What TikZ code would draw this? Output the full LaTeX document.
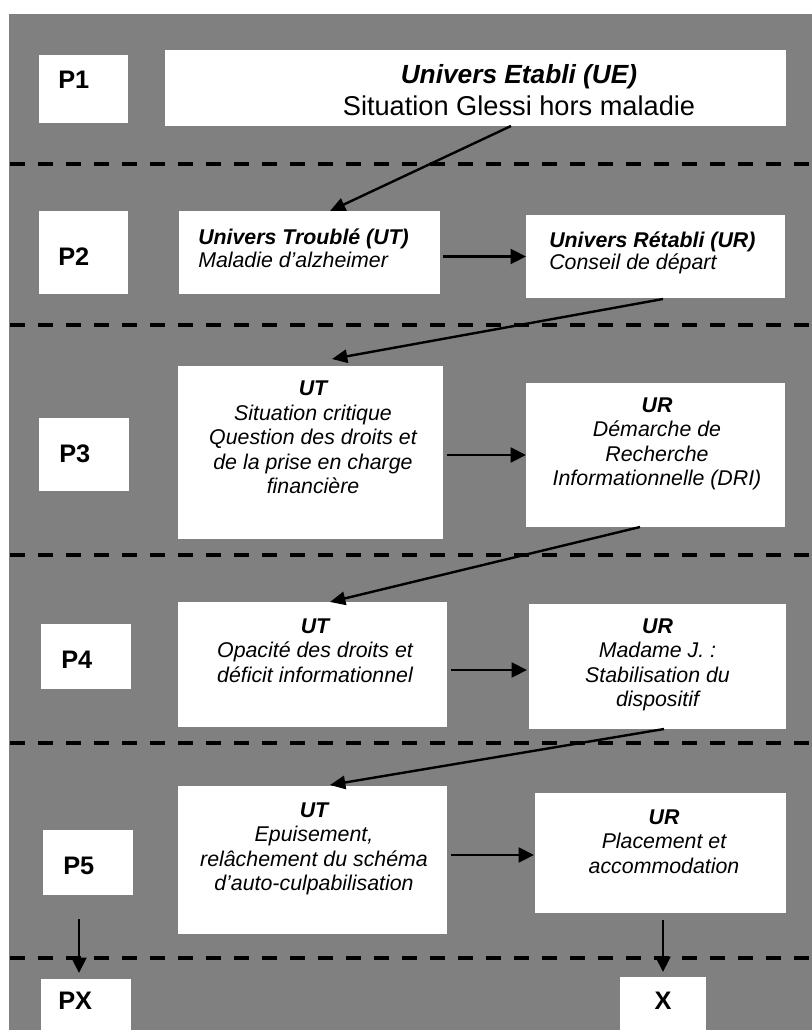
\documentclass[tikz,border=0pt]{standalone}
\usepackage{fontspec}
\setmainfont{Liberation Sans}
\usetikzlibrary{arrows.meta,calc}
\definecolor{bggray}{RGB}{128,128,128}
% fixed first-line heights so that text blocks can be placed by their first baseline
\newcommand\firstln{\rule{0pt}{14pt}}
\newcommand\firstlnbig{\rule{0pt}{17pt}}

\begin{document}
\begin{tikzpicture}[x=0.75pt,y=-0.75pt,
  box/.style={fill=white,draw=none,inner sep=0,outer sep=0},
  wh/.style 2 args={minimum width={#1*0.75pt},minimum height={#2*0.75pt}},
  plabel/.style={font=\fontsize{19}{22}\selectfont\bfseries,inner sep=0,anchor=base west},
  uetext/.style={font=\fontsize{20.4}{24}\selectfont,inner sep=0,align=center,anchor=north},
  lefttext/.style={font=\fontsize{16}{17}\selectfont\itshape,inner sep=0,align=left,anchor=north west},
  body/.style={font=\fontsize{16}{18.4}\selectfont\itshape,inner sep=0,align=center,anchor=north},
  sep/.style={line width=3pt,dash pattern=on 11.6pt off 9.4pt},
  arr/.style={line width=2.2pt,-{Triangle[length=11.5pt,width=11pt]}},
  darr/.style={line width=1.8pt,-{Triangle[length=11.5pt,width=10pt]}}
]
\fill[white] (0,0) rectangle (812,1030);
\fill[bggray] (9,14) rectangle (812,1030);
\useasboundingbox (0,0) rectangle (812,1030);

% phase separators
\foreach \yy in {164,325,555,743,958}
  \draw[sep] (10,\yy) -- (812,\yy);

% boxes
\node[box,wh={621}{76}]  (ue)  at (475.5,88)  {};
\node[box,wh={89}{68}]   (p1)  at (83.5,89)   {};
\node[box,wh={89}{83}]   (p2)  at (83.5,252.5) {};
\node[box,wh={261}{83}]  (ut2) at (309.5,252.5) {};
\node[box,wh={259}{83}]  (ur2) at (655.5,256.5) {};
\node[box,wh={90}{73}]   (p3)  at (84,454.5)  {};
\node[box,wh={265}{173}] (ut3) at (310.5,452.5) {};
\node[box,wh={259}{144}] (ur3) at (655.5,455) {};
\node[box,wh={90}{65}]   (p4)  at (86,656.5)  {};
\node[box,wh={269}{125}] (ut4) at (312.5,664.5) {};
\node[box,wh={257}{125}] (ur4) at (657.5,666.5) {};
\node[box,wh={90}{65}]   (p5)  at (88,862.5)  {};
\node[box,wh={269}{148}] (ut5) at (312.5,860) {};
\node[box,wh={251}{120}] (ur5) at (660.5,853) {};
\node[box,wh={90}{51}]   (px)  at (86,1004.5) {};
\node[box,wh={86}{53}]   (xx)  at (663,1003.5) {};

% phase labels
\node[plabel] (p1-t) at (58,89)   {P1};
\node[plabel] (p2-t) at (58,266)  {P2};
\node[plabel] (p3-t) at (59,462)  {P3};
\node[plabel] (p4-t) at (61,668)  {P4};
\node[plabel] (p5-t) at (63,874)  {P5};
\node[plabel] (px-t) at (58,1009) {PX};
\node[plabel,anchor=base] (xx-t) at (663,1009) {X};

% box texts
\node[uetext] (ue-t) at (519,60.3)
  {\firstlnbig{\fontsize{19.7}{24}\selectfont\bfseries\itshape Univers Etabli (UE)}\\ Situation Glessi hors maladie};
\node[lefttext] (ut2-t) at (198,226)
  {\firstln{\bfseries Univers Troublé (UT)}\\ Maladie d’alzheimer};
\node[lefttext] (ur2-t) at (549,228.3)
  {\firstln{\bfseries Univers Rétabli (UR)}\\ Conseil de départ};
\node[body] (ut3-t) at (313,376.8)
  {\firstln{\bfseries UT}\\ Situation critique\\ Question des droits et\\ de la prise en charge\\ financière};
\node[body] (ur3-t) at (657,393.3)
  {\firstln{\bfseries UR}\\ Démarche de\\ Recherche\\ Informationnelle (DRI)};
\node[body] (ut4-t) at (315,614.3)
  {\firstln{\bfseries UT}\\ Opacité des droits et\\ déficit informationnel};
\node[body] (ur4-t) at (657.5,614.3)
  {\firstln{\bfseries UR}\\ Madame J. :\\ Stabilisation du\\ dispositif};
\node[body] (ut5-t) at (314,798.3)
  {\firstln{\bfseries UT}\\ Epuisement,\\ relâchement du schéma\\ d’auto-culpabilisation};
\node[body] (ur5-t) at (664,805.3)
  {\firstln{\bfseries UR}\\ Placement et\\ accommodation};

% transitions between phases
\draw[darr] ($(ue.south)+(35.5,0)$) -- ($(ut2.north)+(20.5,0)$);
\draw[darr] ($(ur2.south)+(7.5,1)$) -- ($(ut3.north)+(21.5,-7)$);
\draw[darr] ($(ur3.south)+(-15.5,0)$) -- ($(ut4.north)+(17.5,0)$);
\draw[darr] ($(ur4.south)+(6.5,0)$) -- ($(ut5.north)+(17.5,-1)$);

% troubled -> re-established within a phase
\draw[arr] ($(ut2.east |- ur2.west)+(3,0)$) -- (ur2.west);
\draw[arr] ($(ut3.east |- ur3.west)+(4,0)$) -- (ur3.west);
\draw[arr] ($(ut4.east |- ur4.west)+(4,3.5)$) -- ($(ur4.west)+(-2,3.5)$);
\draw[arr] ($(ut5.east |- ur5.west)+(4,2)$) -- ($(ur5.west)+(-1,2)$);

% continuation to the next phase
\draw[arr] ($(p5.south)+(-9,24)$) -- ($(p5.south |- px.north)+(-9,-6)$);
\draw[arr] ($(xx.north |- ur5.south)+(0,7)$) -- ($(xx.north)+(0,-5)$);
\end{tikzpicture}
\end{document}
